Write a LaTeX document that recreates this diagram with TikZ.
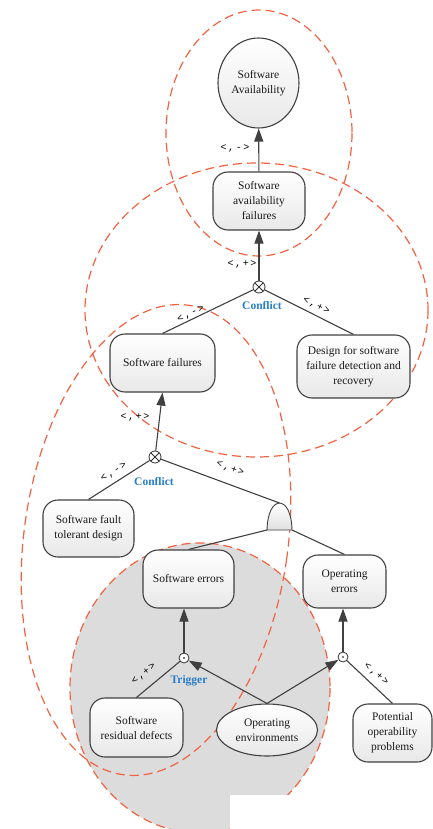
\documentclass[tikz,border=0pt]{standalone}
\usepackage{fontspec}
\setmainfont{Liberation Serif}
\newfontfamily\labelmono{Liberation Mono}
\usetikzlibrary{arrows.meta,shapes.geometric}
\definecolor{zone}{RGB}{242,98,66}
\definecolor{edgegray}{RGB}{64,64,64}
\definecolor{tagblue}{RGB}{40,125,200}
\definecolor{zonefill}{RGB}{220,220,220}
\newcommand\pollabel[1]{<\kern1.6pt,\kern1.6pt#1\kern1.6pt>}
\begin{document}
\begin{tikzpicture}[x=1pt,y=-1pt,
  every node/.style={font=\fontsize{11.5}{15}\selectfont, text=black!90},
  goalbox/.style={draw=edgegray, line width=1.1pt, rounded corners=15pt,
    top color=white, bottom color=black!9, align=center, inner sep=0pt},
  softgoal/.style={ellipse, draw=edgegray, line width=1.1pt,
    top color=white, bottom color=black!9, align=center, inner sep=0pt},
  conflictnode/.style={circle, draw=black!80, line width=0.8pt, fill=white,
    minimum size=12pt, inner sep=0pt,
    path picture={\draw[black!80, line width=0.8pt]
      (path picture bounding box.north west) -- (path picture bounding box.south east)
      (path picture bounding box.north east) -- (path picture bounding box.south west);}},
  triggernode/.style={circle, draw=black!80, line width=0.8pt, fill=white,
    minimum size=10pt, inner sep=0pt,
    path picture={\fill[black] (path picture bounding box.center) circle (0.9pt);}},
  conn/.style={draw=edgegray, line width=1.1pt},
  arr/.style={conn, -{Triangle[length=13pt,width=9pt]}},
  zoneline/.style={draw=zone, line width=1.2pt, dash pattern=on 9pt off 5pt},
  lab/.style={font=\labelmono\fontsize{10}{10}\selectfont, inner sep=0pt, text=black},
  tag/.style={font=\bfseries\fontsize{11.5}{12}\selectfont, text=tagblue, inner sep=0pt}
]
\useasboundingbox (0,0) rectangle (433,829);

% grouping zones
\fill[zonefill] (200,688) ellipse [x radius=130, y radius=145];
\draw[zoneline] (200,688) ellipse [x radius=130, y radius=145];
\draw[zoneline] (259,133) ellipse [x radius=93, y radius=123];
\draw[zoneline] (256.5,310) ellipse [x radius=171.5, y radius=147];
\draw[zoneline, rotate around={-8:(156,540)}] (156,540) ellipse [x radius=132, y radius=237];
\fill[white] (230,795) rectangle (433,829);

% goals
\node[softgoal, minimum width=81pt, minimum height=90pt] (sa) at (258.5,83) {Software\\Availability};
\node[goalbox, minimum width=92pt, minimum height=58pt] (saf) at (259,201) {Software\\availability\\failures};
\node[goalbox, minimum width=105pt, minimum height=58pt] (sf) at (162.5,363) {Software failures};
\node[goalbox, minimum width=113pt, minimum height=63pt] (dsf) at (353.5,366.5) {Design for software\\failure detection and\\recovery};
\node[goalbox, minimum width=91pt, minimum height=57pt] (sftd) at (88.5,528.5) {Software fault\\tolerant design};
\node[goalbox, minimum width=91pt, minimum height=58pt] (se) at (188.5,579) {Software errors};
\node[goalbox, minimum width=83pt, minimum height=53pt] (oe) at (344.5,581.5) {Operating\\errors};
\node[goalbox, minimum width=93pt, minimum height=59pt] (srd) at (136.5,727.5) {Software\\residual defects};
\node[softgoal, minimum width=101pt, minimum height=52pt] (env) at (267,730) {Operating\\environments};
\node[goalbox, minimum width=79pt, minimum height=58pt] (pop) at (392.5,733) {Potential\\operability\\problems};

% junctions
\node[conflictnode] (c1) at (259,287) {};
\node[conflictnode] (c2) at (155,457) {};
\node[triggernode] (t1) at (184,658) {};
\node[triggernode] (t2) at (343,657) {};
\coordinate (gt) at (279.5,503);
\coordinate (gl) at (267,530);
\coordinate (gr) at (292,530);

% links
\draw[arr] (saf) -- (sa);
\draw[arr] (c1) -- (saf);
\draw[conn] (sf.north) -- (c1);
\draw[conn] (dsf.north) -- (c1);
\draw[arr] (c2) -- (sf.south);
\draw[conn] (sftd.north) -- (c2);
\draw[conn] (c2) -- (gt);
\draw[conn] (gl) -- (se.north);
\draw[conn] (gr) -- (oe.north);
\draw[arr] (t1) -- (t1 |- se.south);
\draw[arr] (t2) -- (t2 |- oe.south);
\draw[conn] (srd.north) -- (t1);
\draw[arr] (env.north) -- (t1);
\draw[arr] (env.north) -- (t2);
\draw[conn] (pop.north) -- (t2);

% and-gate
\draw[draw=edgegray, line width=0.9pt, top color=white, bottom color=black!12]
  (gl) .. controls (267.5,512) and (273,503.5) .. (gt)
       .. controls (286,503.5) and (291.5,512) .. (gr) -- cycle;

% contribution labels
\node[lab] (l1) at (235,148) {\pollabel{-}};
\node[lab] (l2) at (242,264) {\pollabel{+}};
\node[lab, rotate=25.6] (l3) at (191,314) {\pollabel{-}};
\node[lab, rotate=-27] (l4) at (316,306) {\pollabel{+}};
\node[lab] (l5) at (135,417) {\pollabel{+}};
\node[lab, rotate=32.7] (l6) at (114,472) {\pollabel{-}};
\node[lab, rotate=-20.4] (l7) at (230,469) {\pollabel{+}};
\node[lab, rotate=40] (l8) at (144,674) {\pollabel{+}};
\node[lab, rotate=-40.5] (l9) at (376,674) {\pollabel{+}};

% relation tags
\node[tag] (k1) at (262,306) {Conflict};
\node[tag] (k2) at (154,482) {Conflict};
\node[tag] (k3) at (189,681) {Trigger};
\end{tikzpicture}
\end{document}
